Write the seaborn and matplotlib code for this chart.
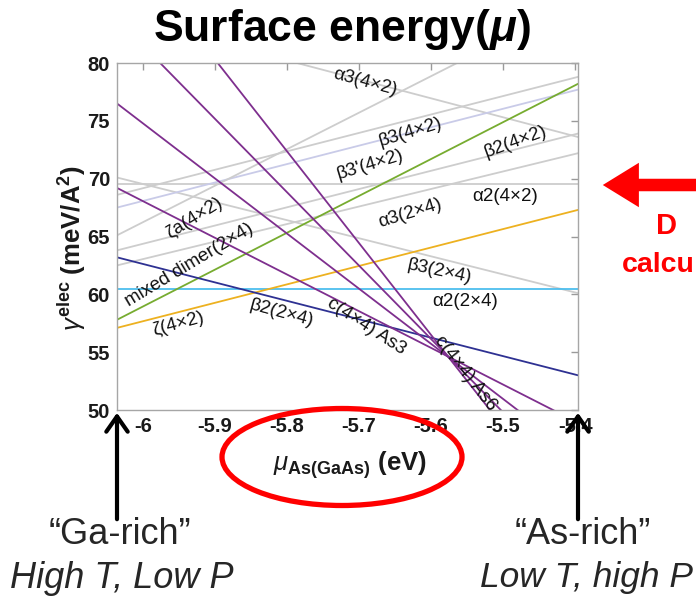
import numpy as np
import pandas as pd
import matplotlib
matplotlib.use("Agg")
import matplotlib.pyplot as plt
import seaborn as sns
from matplotlib.patches import Ellipse

# ---------------- data ----------------
x_ends = [-6.036, -5.396]
line_names = ["a3_4x2", "flat_69", "b3_2x4", "gA", "gB", "gE", "gC", "gD",
              "a2_2x4", "zeta_4x2", "mixed", "b2_2x4",
              "cAs_1", "cAs_2", "cAs_3", "cAs_4"]
y_left = [84.1, 69.5, 70.1, 68.6, 67.5, 65.1, 63.8, 62.5,
          60.5, 57.1, 57.8, 63.2,
          76.5, 69.2, 83.8, 91.1]
y_right = [73.6, 69.5, 60.1, 78.8, 77.7, 85.3, 73.9, 72.2,
           60.5, 67.3, 78.2, 53.0,
           46.0, 48.9, 43.2, 40.3]

label_texts = ["α3(4×2)", "β3(4×2)", "β3'(4×2)", "β2(4×2)", "α3(2×4)", "α2(4×2)",
               "ζa(4×2)", "β3(2×4)", "α2(2×4)", "mixed dimer(2×4)", "ζ(4×2)",
               "β2(2×4)", "c(4×4) As3", "c(4×4) As6"]
label_x = [-5.692, -5.629, -5.685, -5.483, -5.629, -5.497, -5.928, -5.588,
           -5.553, -5.935, -5.951, -5.807, -5.690, -5.552]
label_y = [78.36, 74.04, 71.18, 73.17, 67.04, 68.5, 66.6, 61.94,
           59.34, 62.54, 57.44, 58.39, 57.27, 53.2]
label_rot = [-15, 17, 17, 20, 17, 0, 32, -12, 0, 31, 15, -15, -33, -52]

xticks = [-6.0, -5.9, -5.8, -5.7, -5.6, -5.5, -5.4]
xtick_labels = ["-6", "-5.9", "-5.8", "-5.7", "-5.6", "-5.5", "-5.4"]
yticks = [50, 55, 60, 65, 70, 75, 80]

# ---------------- style ----------------
gray = "#cdcdcd"
lav = "#c9cbe8"
palette = {
    "a3_4x2": gray, "flat_69": gray, "b3_2x4": gray, "gA": gray,
    "gB": lav, "gE": gray, "gC": gray, "gD": gray,
    "a2_2x4": "#4dbeee", "zeta_4x2": "#edb120", "mixed": "#77ac30",
    "b2_2x4": "#2e3192",
    "cAs_1": "#7e2f8e", "cAs_2": "#7e2f8e", "cAs_3": "#7e2f8e", "cAs_4": "#7e2f8e",
}

sns.set_style("white")
plt.rcParams["font.family"] = ["Liberation Sans", "DejaVu Sans"]
plt.rcParams["mathtext.fontset"] = "custom"
plt.rcParams["mathtext.rm"] = "Liberation Sans:bold"
plt.rcParams["mathtext.bf"] = "Liberation Sans:bold"
plt.rcParams["mathtext.it"] = "Liberation Sans:italic"
plt.rcParams["mathtext.sf"] = "Liberation Sans:bold:italic"

W, H = 696, 599
fig = plt.figure(figsize=(W / 100, H / 100), dpi=100)
fig.patch.set_facecolor("white")
ax = fig.add_axes([117 / W, 1 - 410 / H, (578 - 117) / W, (410 - 63) / H])

rows = []
for n, yl, yr in zip(line_names, y_left, y_right):
    rows.append({"line": n, "x": x_ends[0], "y": yl})
    rows.append({"line": n, "x": x_ends[1], "y": yr})
df = pd.DataFrame(rows)

order = [n for n in line_names if palette[n] in (gray, lav)] + \
        [n for n in line_names if palette[n] not in (gray, lav)]
for n in order:
    sub = df[df["line"] == n]
    sns.lineplot(data=sub, x="x", y="y", color=palette[n], lw=1.3, ax=ax,
                 legend=False, sort=False)

ax.set_xlim(x_ends[0], x_ends[1])
ax.set_ylim(50, 80)
ax.set_xticks(xticks)
ax.set_xticklabels(xtick_labels, fontsize=14.5, fontweight="bold")
ax.set_yticks(yticks)
ax.set_yticklabels([str(v) for v in yticks], fontsize=14.5, fontweight="bold")
ax.tick_params(direction="in", top=True, right=True, length=5, width=1,
               color="#9a9a9a", pad=5, labelcolor="#1a1a1a")
for s in ax.spines.values():
    s.set_color("#a6a6a6")
    s.set_linewidth(1.0)

ax.set_xlabel(r"$\mu_{\mathbf{As(GaAs)}}$ (eV)", fontsize=18.5, fontweight="bold",
              color="#1a1a1a")
ax.xaxis.set_label_coords(0.505, -0.112)
ax.set_ylabel(r"$\gamma^{\mathbf{elec}}$ (meV/A$^{\mathbf{2}}$)", fontsize=18.5,
              fontweight="bold", color="#1a1a1a")
ax.yaxis.set_label_coords(-0.062, 0.467)

for t, lx, ly, r in zip(label_texts, label_x, label_y, label_rot):
    ax.text(lx, ly, t, fontsize=13.5, rotation=r, rotation_mode="anchor",
            ha="center", va="center", color="#111111")

# title
fig.text(342 / W, 1 - 30 / H, r"Surface energy($\mathsf{\mu}$)", fontsize=32,
         fontweight="bold", ha="center", va="center", color="black")

# red ellipse around x-label
fig.add_artist(Ellipse((342 / W, 1 - 457 / H), 240 / W, 97 / H,
                       transform=fig.transFigure, fill=False,
                       edgecolor="#ff0000", lw=3.8))

# black arrows
for xp in (117, 578):
    ax.annotate("", xy=(xp / W, 1 - 410 / H), xytext=(xp / W, 1 - 522 / H),
                xycoords="figure fraction", textcoords="figure fraction",
                arrowprops=dict(arrowstyle="->,head_length=0.5,head_width=0.35",
                                lw=3, color="black", mutation_scale=22),
                annotation_clip=False)

fig.text(120 / W, 1 - 535 / H, "“Ga-rich”", fontsize=26, ha="center", va="center")
fig.text(122 / W, 1 - 578 / H, "High T, Low P", fontsize=26, ha="center",
         va="center", style="italic")
fig.text(583 / W, 1 - 535 / H, "“As-rich”", fontsize=26, ha="center", va="center")
fig.text(587 / W, 1 - 578 / H, "Low T, high P", fontsize=25.5, ha="center",
         va="center", style="italic")

# red arrow and the visible part of the right-hand note
ax.annotate("", xy=(600 / W, 1 - 185 / H), xytext=(705 / W, 1 - 185 / H),
            xycoords="figure fraction", textcoords="figure fraction",
            arrowprops=dict(arrowstyle="simple,head_length=1.3,head_width=1.6,tail_width=0.45",
                            color="#ff0000", mutation_scale=20, lw=0),
            annotation_clip=False)
fig.text(656 / W, 1 - 226 / H, "D", fontsize=21, fontweight="bold",
         color="#ff0000", ha="left", va="center")
fig.text(622 / W, 1 - 265 / H, "calcu", fontsize=20.5, fontweight="bold",
         color="#ff0000", ha="left", va="center")

fig.savefig("out.png", dpi=100)
